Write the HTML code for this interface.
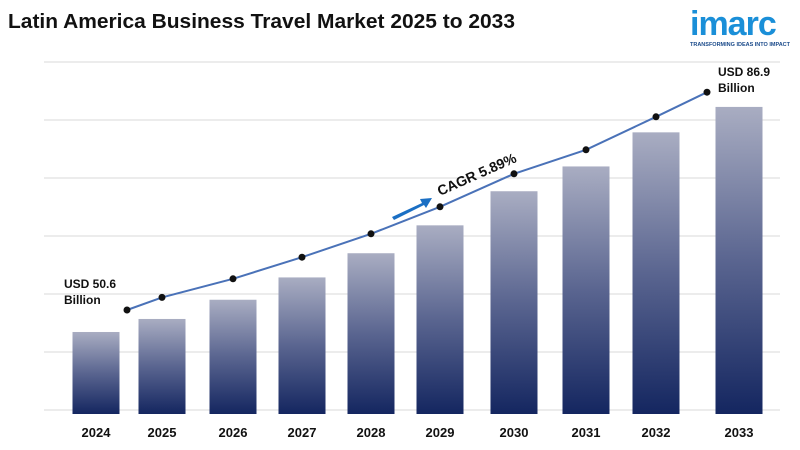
<!DOCTYPE html>
<html><head><meta charset="utf-8"><style>
body{margin:0;background:#fff;font-family:"Liberation Sans",sans-serif}
#wrap{position:relative;width:800px;height:450px;overflow:hidden}
</style></head><body>
<div id="wrap">
<svg id="svg" width="800" height="450" xmlns="http://www.w3.org/2000/svg">
<defs>
<linearGradient id="bg" x1="0" y1="0" x2="0" y2="1">
<stop offset="0" stop-color="#a9adc2"/><stop offset="0.5" stop-color="#5a6590"/><stop offset="1" stop-color="#142660"/>
</linearGradient>
</defs>
<text x="8" y="28" font-size="20" font-weight="bold" fill="#111" textLength="507" lengthAdjust="spacingAndGlyphs">Latin America Business Travel Market 2025 to 2033</text>
<g>
<text x="690" y="35" font-size="34" font-weight="bold" fill="#1a8fd8" letter-spacing="-1">imarc</text>
<text x="690" y="46" font-size="5.5" font-weight="bold" fill="#1a4a8a">TRANSFORMING IDEAS INTO IMPACT</text>
</g>
<g id="grid"></g><g id="bars"></g><g id="line"></g><g id="labels"></g>
<g>
<polygon points="392,217 422,203 420,199 432,198 426,208 424,205 394,220" fill="#1a6fc4"/>
<text x="440" y="196" font-size="14" font-weight="bold" fill="#111" transform="rotate(-24 440 196)">CAGR  5.89%</text>
</g>
<text x="64" y="288" font-size="12" font-weight="bold" fill="#111"><tspan x="64">USD 50.6</tspan><tspan x="64" dy="16">Billion</tspan></text>
<text x="718" y="76" font-size="12" font-weight="bold" fill="#111"><tspan x="718">USD 86.9</tspan><tspan x="718" dy="16">Billion</tspan></text>
</svg>
</div>
<script>
const years=["2024","2025","2026","2027","2028","2029","2030","2031","2032","2033"];
const values=[50.6,52.7,55.8,59.4,63.3,67.8,73.3,77.3,82.8,86.9];
const gridTicks=[0,1,2,3,4,5,6];
const NS="http://www.w3.org/2000/svg";
const centers=[96,162,233,302,371,440,514,586,656,739];
function xBar(i){return centers[i];}
function barH(v){return -231.7+6.2*v;}
function yLine(v){return 310-(v-50.6)*6.0;}
function mk(t,a,p){const e=document.createElementNS(NS,t);for(const k in a)e.setAttribute(k,a[k]);p.appendChild(e);return e;}
const g=document.getElementById('grid');
gridTicks.forEach(t=>{const y=62+t*58;
const l=mk('line',{x1:44,x2:780,y1:y,y2:y,stroke:'#d8d8d8','stroke-width':1},g);

});
const bg=document.getElementById('bars'),lb=document.getElementById('labels');
values.forEach((v,i)=>{const h=barH(v);
const r=mk('rect',{x:xBar(i)-23.5,y:414-h,width:47,height:h,fill:'url(#bg)'},bg);


const t=mk('text',{x:xBar(i),y:437,'font-size':13,'font-weight':'bold','text-anchor':'middle',fill:'#111'},lb);
t.textContent=years[i];

});
const lg=document.getElementById('line');
const pts=values.map((v,i)=>{let x=xBar(i);if(i===0)x+=31;if(i===values.length-1)x-=32;return [x,yLine(v)];});
const pl=mk('polyline',{points:pts.map(p=>p.join(',')).join(' '),fill:'none',stroke:'#4a72b8','stroke-width':2},lg);


pts.forEach((p,i)=>{const c=mk('circle',{cx:p[0],cy:p[1],r:3.5,fill:'#111'},lg);

});
</script>
</body></html>
